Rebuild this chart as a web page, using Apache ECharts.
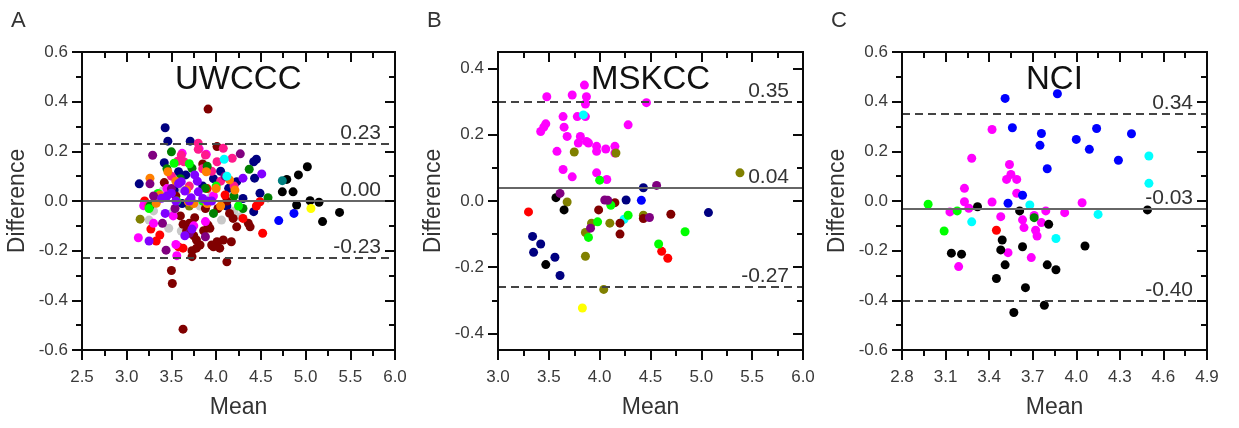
<!DOCTYPE html>
<html><head><meta charset="utf-8">
<script src="https://cdn.jsdelivr.net/npm/echarts@6/dist/echarts.min.js"></script>
<style>html,body{margin:0;padding:0;background:#fff}#c{width:1239px;height:428px}</style>
</head><body><div id="c"></div><script>
// ---------- Panel A : UWCCC ----------
const A_navy = [[3.43,0.295],[3.46,0.241],[3.71,0.241],[3.42,0.154],[3.58,0.118],[3.14,0.069],[3.53,0.044],[4.42,0.158],[4.45,0.168],[4.43,0.092],[4.49,0.031],[4.23,0.078],[4.14,0.051],[4.42,-0.043],[3.66,0.105],[3.97,0.09],[4.05,0.12],[3.85,0.06],[4.30,0.01],[3.62,-0.01],[4.12,-0.02]];
const A_blue = [[4.87,-0.05],[4.70,-0.079]];
const A_black = [[5.02,0.138],[4.92,0.105],[4.79,0.087],[4.74,0.037],[4.86,0.037],[4.90,-0.016],[5.05,0.001],[5.15,-0.005],[5.38,-0.046],[5.19,-0.083]];
const A_dcyan = [[4.74,0.082]];
const A_yellow = [[5.06,-0.03]];
const A_cyan = [[4.09,0.168],[4.12,0.10]];
const A_wine = [[3.91,0.37],[4.01,0.219],[3.85,0.149],[3.42,0.074],[3.50,-0.28],[3.51,-0.332],[3.63,-0.516],[3.73,-0.224],[3.78,-0.19],[3.63,-0.094],[3.67,-0.121],[3.75,-0.14],[3.78,-0.157],[3.82,-0.177],[3.76,-0.067],[3.91,-0.097],[3.95,-0.177],[3.93,-0.11],[4.01,-0.164],[4.08,-0.157],[4.17,-0.164],[3.97,-0.184],[4.04,-0.19],[4.12,-0.245],[4.19,-0.07],[4.23,-0.104],[4.36,-0.09],[4.38,-0.104],[4.15,-0.05],[3.55,0.02],[3.60,-0.06],[3.70,-0.09],[3.88,-0.03],[4.02,-0.03],[4.12,0.0],[3.73,-0.20],[3.86,-0.12]];
const A_red = [[3.27,-0.113],[3.33,-0.161],[3.37,-0.137],[3.63,-0.19],[4.52,-0.13],[4.49,-0.003],[4.10,0.024],[3.58,-0.185],[3.20,0.0],[4.45,-0.02],[4.30,-0.07],[3.90,0.05]];
const A_magenta = [[3.19,-0.019],[3.13,-0.148],[3.56,-0.22],[3.55,-0.175],[3.88,-0.083],[3.81,0.21],[3.62,0.192],[3.89,0.188],[3.52,-0.06],[3.75,-0.10],[3.30,-0.09],[3.45,0.05],[3.97,0.02]];
const A_pink = [[3.80,0.233],[3.80,0.208],[3.61,0.185],[3.88,0.185],[3.64,0.158],[4.08,0.212],[4.18,0.172],[4.01,0.158],[3.57,0.16],[3.95,0.12],[4.05,0.08],[3.70,0.06],[3.85,0.13],[4.20,0.06],[3.50,0.10],[3.24,-0.02]];
const A_violet = [[3.25,-0.161],[3.72,0.013],[3.43,-0.05],[3.39,0.011],[3.76,0.105],[3.50,0.031],[3.61,0.078],[3.80,0.037],[4.51,0.109],[4.30,0.092],[3.73,-0.113],[3.70,0.0],[3.55,0.0],[3.90,0.0],[3.65,0.04],[3.85,0.01],[3.45,0.02],[3.58,0.07],[3.65,-0.14],[3.95,0.0],[3.79,0.08]];
const A_purple = [[3.29,0.184],[3.26,0.069],[3.44,-0.198],[3.54,-0.03],[3.40,-0.09],[3.88,-0.144],[4.27,0.19],[3.50,0.05],[3.70,-0.13],[4.10,0.10],[3.30,0.02]];
const A_green = [[3.50,0.198],[3.73,0.132],[3.88,0.051],[4.37,0.128],[3.97,-0.05],[4.58,0.013],[3.26,-0.02],[3.60,0.09],[4.20,0.02],[4.30,-0.03],[3.45,0.13],[3.90,0.14]];
const A_lime = [[3.53,0.152],[3.25,-0.03],[3.56,0.0],[3.85,0.0],[3.35,0.03],[4.00,0.06],[3.70,0.15],[4.25,-0.02]];
const A_orange = [[3.46,0.118],[3.89,0.118],[3.26,0.092],[3.67,0.044],[3.37,0.024],[4.15,0.085],[4.21,0.044],[3.69,-0.003],[3.33,-0.009],[3.90,-0.01],[4.00,0.05],[3.55,0.08],[3.75,-0.01],[4.05,-0.02]];
const A_olive = [[3.15,-0.073],[3.35,0.01],[3.70,-0.02]];
const A_lgray = [[3.25,-0.077],[3.47,-0.11],[3.61,-0.121],[4.06,-0.077],[4.27,-0.063],[3.30,-0.04],[3.60,0.05],[3.95,0.02],[3.82,-0.02],[3.50,-0.05],[4.20,-0.04],[3.40,0.04]];
const A_lineValues = [0.23, 0.00, -0.23];
const A_lineLabels = ['0.23', '0.00', '-0.23'];
const A_xMajor = [2.5, 3.0, 3.5, 4.0, 4.5, 5.0, 5.5, 6.0];
const A_xMinor = [2.75, 3.25, 3.75, 4.25, 4.75, 5.25, 5.75];
const A_yMajor = [-0.6, -0.4, -0.2, 0, 0.2, 0.4, 0.6];
const A_yMinor = [-0.5, -0.3, -0.1, 0.1, 0.3, 0.5];

// ---------- Panel B : MSKCC ----------
const B_magenta = [[3.48,0.315],[3.42,0.21],[3.45,0.223],[3.47,0.233],[3.58,0.15],[3.64,0.255],[3.65,0.223],[3.68,0.195],[3.64,0.095],[3.73,0.073],[3.73,0.32],[3.78,0.255],[3.81,0.195],[3.79,0.175],[3.85,0.35],[3.87,0.315],[3.86,0.293],[3.86,0.255],[3.87,0.18],[3.89,0.175],[3.97,0.165],[3.97,0.15],[3.97,0.085],[4.06,0.157],[4.07,0.065],[4.15,0.165],[4.15,0.145],[4.28,0.23],[4.46,0.297]];
const B_olive = [[3.75,0.148],[4.16,0.145],[3.68,-0.003],[3.92,-0.067],[3.86,-0.095],[3.86,-0.167],[4.10,-0.067],[4.04,-0.267],[4.43,-0.043],[5.38,0.085]];
const B_black = [[3.57,0.01],[3.65,-0.027],[3.47,-0.192]];
const B_purple = [[3.61,0.023],[3.91,-0.082],[4.05,0.003],[4.08,0.002],[4.49,-0.05],[4.56,0.047]];
const B_navy = [[3.34,-0.107],[3.35,-0.155],[3.42,-0.13],[3.56,-0.17],[3.61,-0.225],[4.26,0.003],[4.43,0.04],[5.07,-0.035]];
const B_blue = [[4.41,0.002]];
const B_red = [[3.30,-0.033],[4.61,-0.152],[4.67,-0.173]];
const B_wine = [[3.99,-0.027],[4.15,-0.005],[4.20,-0.067],[4.20,-0.10],[4.43,-0.053],[4.70,-0.04]];
const B_lime = [[4.00,0.063],[3.98,-0.063],[3.89,-0.11],[4.11,-0.013],[4.28,-0.043],[4.58,-0.13],[4.84,-0.093]];
const B_cyan = [[4.24,-0.055],[3.84,0.26]];
const B_yellow = [[3.83,-0.323]];
const B_lineValues = [0.305, 0.042, -0.262];
const B_lineLabels = ['0.35', '0.04', '-0.27'];
const B_xMajor = [3.0, 3.5, 4.0, 4.5, 5.0, 5.5, 6.0];
const B_xMinor = [3.25, 3.75, 4.25, 4.75, 5.25, 5.75];
const B_yMajor = [-0.4, -0.2, 0, 0.2, 0.4];
const B_yMinor = [-0.3, -0.1, 0.1, 0.3];

// ---------- Panel C : NCI ----------
const C_blue = [[3.51,0.413],[3.87,0.432],[3.56,0.295],[3.76,0.272],[3.75,0.224],[3.80,0.13],[4.00,0.248],[4.09,0.208],[4.14,0.292],[4.29,0.164],[4.38,0.271],[3.63,0.023],[3.53,-0.009]];
const C_cyan = [[4.50,0.181],[4.50,0.071],[3.28,-0.084],[3.68,-0.016],[3.86,-0.151],[4.15,-0.054]];
const C_magenta = [[3.42,0.288],[3.28,0.172],[3.23,0.051],[3.23,-0.003],[3.26,-0.029],[3.13,-0.044],[3.19,-0.264],[3.42,-0.004],[3.48,-0.063],[3.54,0.147],[3.52,0.087],[3.55,0.107],[3.59,0.087],[3.59,0.031],[3.63,-0.076],[3.64,-0.107],[3.71,-0.058],[3.72,-0.118],[3.73,-0.141],[3.76,-0.087],[3.79,-0.04],[3.53,-0.208],[3.69,-0.228],[3.92,-0.047],[4.04,-0.007]];
const C_lime = [[2.98,-0.013],[3.09,-0.121],[3.18,-0.04]];
const C_green = [[3.71,-0.067]];
const C_red = [[3.45,-0.118]];
const C_black = [[3.14,-0.21],[3.21,-0.214],[3.32,-0.023],[3.49,-0.157],[3.48,-0.197],[3.51,-0.257],[3.45,-0.312],[3.57,-0.449],[3.61,-0.04],[3.63,-0.184],[3.65,-0.349],[3.81,-0.094],[3.80,-0.257],[3.86,-0.277],[3.78,-0.42],[4.06,-0.181],[4.49,-0.036]];
const C_lineValues = [0.347, -0.03, -0.40];
const C_lineLabels = ['0.34', '-0.03', '-0.40'];
const C_xMajor = [2.8, 3.1, 3.4, 3.7, 4.0, 4.3, 4.6, 4.9];
const C_xMinor = [2.95, 3.25, 3.55, 3.85, 4.15, 4.45, 4.75];
const C_yMajor = [-0.6, -0.4, -0.2, 0, 0.2, 0.4, 0.6];
const C_yMinor = [-0.5, -0.3, -0.1, 0.1, 0.3, 0.5];

// ---------- styles ----------
const COLORS = {
  navy:'#000080', blue:'#0000ff', black:'#000000', dcyan:'#008080', yellow:'#ffff00', cyan:'#00ffff',
  wine:'#800000', red:'#ff0000', magenta:'#ff00ff', pink:'#ff1a8c', violet:'#8000ff', purple:'#800080',
  green:'#008000', lime:'#00ff00', orange:'#ff8000', olive:'#808000', lgray:'#c8c8c8'
};
const FONT = "'Liberation Sans', Arial, sans-serif";
const MAJOR_LEN = 10, MINOR_LEN = 6;

const panels = [
  { title:'UWCCC', letter:'A', grid:{left:82, top:52, width:313, height:298},
    x:{min:2.5, max:6.0, major:A_xMajor, minor:A_xMinor}, y:{min:-0.6, max:0.6, major:A_yMajor, minor:A_yMinor},
    lines:[A_lineValues, A_lineLabels],
    groups:[['lgray',A_lgray],['olive',A_olive],['navy',A_navy],['wine',A_wine],['red',A_red],['magenta',A_magenta],['pink',A_pink],['green',A_green],['lime',A_lime],['orange',A_orange],['purple',A_purple],['violet',A_violet],['cyan',A_cyan],['blue',A_blue],['black',A_black],['dcyan',A_dcyan],['yellow',A_yellow]] },
  { title:'MSKCC', letter:'B', grid:{left:498, top:52, width:305, height:298},
    x:{min:3.0, max:6.0, major:B_xMajor, minor:B_xMinor}, y:{min:-0.45, max:0.45, major:B_yMajor, minor:B_yMinor},
    lines:[B_lineValues, B_lineLabels],
    groups:[['magenta',B_magenta],['cyan',B_cyan],['olive',B_olive],['black',B_black],['navy',B_navy],['blue',B_blue],['red',B_red],['wine',B_wine],['lime',B_lime],['purple',B_purple],['yellow',B_yellow]] },
  { title:'NCI', letter:'C', grid:{left:902, top:52, width:305, height:298},
    x:{min:2.8, max:4.9, major:C_xMajor, minor:C_xMinor}, y:{min:-0.6, max:0.6, major:C_yMajor, minor:C_yMinor},
    lines:[C_lineValues, C_lineLabels],
    groups:[['magenta',C_magenta],['blue',C_blue],['cyan',C_cyan],['lime',C_lime],['green',C_green],['red',C_red],['black',C_black]] }
];

const measureCtx = document.createElement('canvas').getContext('2d');
function textWidth(text, font) { measureCtx.font = font; return measureCtx.measureText(text).width; }
const fmt = v => (Math.abs(v) < 1e-9 ? 0 : v).toFixed(1);

const grids = [], xAxes = [], yAxes = [], series = [], titles = [];

panels.forEach((p, pi) => {
  grids.push(Object.assign({show: false}, p.grid));
  xAxes.push({type: 'value', gridIndex: pi, position: 'bottom', min: p.x.min, max: p.x.max,
    axisLine: {show: false, onZero: false}, axisTick: {show: false}, splitLine: {show: false},
    axisLabel: {show: true, margin: 19, fontSize: 17, color: '#3a3a3a', fontFamily: FONT, formatter: fmt,
      showMinLabel: true, showMaxLabel: true, customValues: p.x.major},
    name: 'Mean', nameLocation: 'middle', nameGap: 46, nameTextStyle: {fontSize: 23, color: '#333', fontFamily: FONT}});
  yAxes.push({type: 'value', gridIndex: pi, position: 'left', min: p.y.min, max: p.y.max,
    axisLine: {show: false, onZero: false}, axisTick: {show: false}, splitLine: {show: false},
    axisLabel: {show: true, margin: 14, fontSize: 17, color: '#3a3a3a', fontFamily: FONT, formatter: fmt,
      showMinLabel: true, showMaxLabel: true, customValues: p.y.major},
    name: 'Difference', nameLocation: 'middle', nameGap: 53, nameTextStyle: {fontSize: 23, color: '#333', fontFamily: FONT}});

  const [lv, ll] = p.lines;
  const mlData = lv.map((v, i) => ({
    yAxis: v,
    lineStyle: i === 1 ? {type: 'solid', color: '#666', width: 2} : {type: [8, 5], color: '#444', width: 1.8},
    label: {formatter: ll[i]}
  }));

  p.groups.forEach(([ck, data], gi) => {
    const s = {type: 'scatter', xAxisIndex: pi, yAxisIndex: pi, data: data, symbol: 'circle', symbolSize: 9,
      itemStyle: {color: COLORS[ck], opacity: 1}, silent: true};
    if (gi === 0) {
      s.markLine = {silent: true, symbol: ['none', 'none'], animation: false, data: mlData,
        label: {show: true, position: 'insideEndTop', distance: [14, 0], fontSize: 21, color: '#333', fontFamily: FONT}};
    }
    series.push(s);
  });

  const cx = p.grid.left + p.grid.width / 2;
  const tFont = '33px ' + FONT;
  titles.push({text: p.title, left: Math.round(cx - textWidth(p.title, tFont) / 2), top: 63, padding: 0,
    textStyle: {fontSize: 33, fontWeight: 'normal', color: '#111', fontFamily: FONT}});
  titles.push({text: p.letter, left: p.grid.left - 71, top: 10, padding: 0,
    textStyle: {fontSize: 22, fontWeight: 300, color: '#333', fontFamily: FONT}});
});

const chart = echarts.init(document.getElementById('c'), null, {renderer: 'canvas'});
chart.setOption({
  animation: false,
  title: titles, grid: grids, xAxis: xAxes, yAxis: yAxes, series: series
});

// Frame and ticks: positions obtained from the library's own scales (convertToPixel),
// drawn as mark lines (the mark-line path renders reliably here).
const frameSeries = panels.map((p, pi) => {
  const toPx = (x, y) => chart.convertToPixel({gridIndex: pi}, [x, y]);
  const [L, B] = toPx(p.x.min, p.y.min);
  const [R, T] = toPx(p.x.max, p.y.max);
  const segs = [];
  const seg = (x1, y1, x2, y2) => segs.push([{x: x1, y: y1}, {x: x2, y: y2}]);
  seg(L - 1, T, R + 1, T); seg(L - 1, B, R + 1, B); seg(L, T, L, B); seg(R, T, R, B);
  const xTick = (v, len) => { const px = toPx(v, p.y.min)[0]; seg(px, B, px, B + len); seg(px, T, px, T + len); };
  const yTick = (v, len) => { const py = toPx(p.x.min, v)[1]; seg(L - len, py, L, py); seg(R - len, py, R, py); };
  p.x.major.forEach(v => xTick(v, MAJOR_LEN));
  p.x.minor.forEach(v => xTick(v, MINOR_LEN));
  p.y.major.forEach(v => yTick(v, MAJOR_LEN));
  p.y.minor.forEach(v => yTick(v, MINOR_LEN));
  return {type: 'scatter', xAxisIndex: pi, yAxisIndex: pi, data: [], silent: true, clip: false, z: 5,
    markLine: {silent: true, symbol: ['none', 'none'], animation: false, label: {show: false},
      lineStyle: {type: 'solid', color: '#0a0a0a', width: 2}, data: segs}};
});
chart.setOption({series: series.concat(frameSeries)});
</script></body></html>
